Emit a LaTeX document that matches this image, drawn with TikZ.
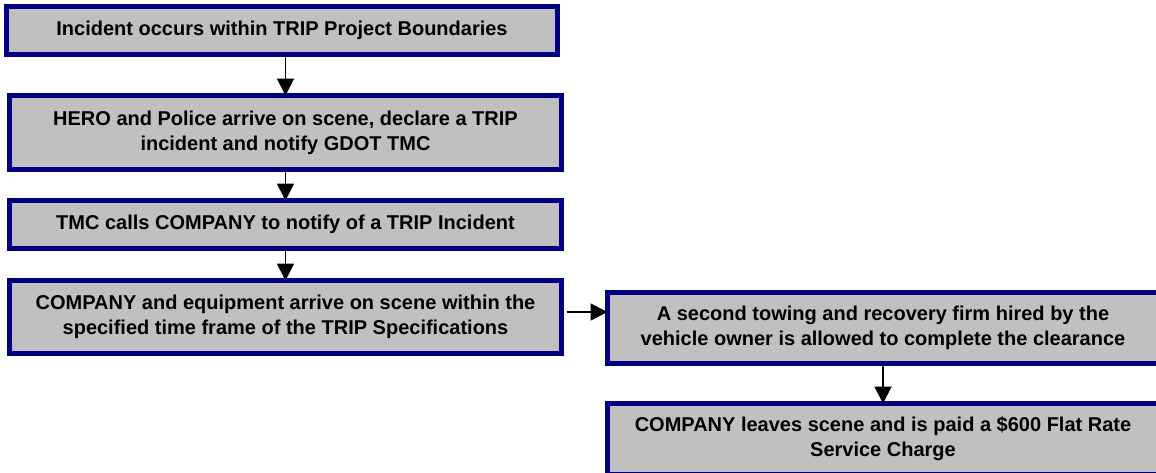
\documentclass[tikz,border=0pt]{standalone}
\usepackage{fontspec}
\setmainfont{Liberation Sans}
\usetikzlibrary{arrows.meta}
\definecolor{boxnavy}{HTML}{000080}
\definecolor{boxgray}{HTML}{C0C0C0}
\begin{document}
\begin{tikzpicture}[x=1pt,y=-1pt,
  flowbox/.style={draw=boxnavy,line width=5pt,fill=boxgray,rectangle,inner sep=0pt,
    align=center,font=\fontsize{20}{25}\selectfont\bfseries},
  arr/.style={line width=1.8pt,-{Triangle[width=17pt,length=17pt]}}]
\useasboundingbox (0,0) rectangle (1156,472);
\clip (0,0) rectangle (1156,472);
\node[flowbox,minimum width=551pt,minimum height=48pt] (b1) at (282,30.5)
  {Incident occurs within TRIP Project Boundaries};
\node[flowbox,minimum width=552pt,minimum height=74pt] (b2) at (285.5,132.5)
  {HERO and Police arrive on scene, declare a TRIP\\incident and notify GDOT TMC};
\node[flowbox,minimum width=552pt,minimum height=48pt] (b3) at (285.5,224.5)
  {TMC calls COMPANY to notify of a TRIP Incident};
\node[flowbox,minimum width=552pt,minimum height=73pt] (b4) at (285.5,317)
  {COMPANY and equipment arrive on scene within the\\specified time frame of the TRIP Specifications};
\node[flowbox,minimum width=551pt,minimum height=71pt] (b5) at (883,328)
  {A second towing and recovery firm hired by the\\vehicle owner is allowed to complete the clearance};
\node[flowbox,minimum width=551pt,minimum height=71pt] (b6) at (883,439)
  {COMPANY leaves scene and is paid a \$600 Flat Rate\\Service Charge};
\draw[arr] ([yshift=2.5pt]b1.south -| b2.north) -- ([yshift=-2.5pt]b2.north);
\draw[arr] ([yshift=2.5pt]b2.south) -- ([yshift=-2.5pt]b3.north);
\draw[arr] ([yshift=2.5pt]b3.south) -- ([yshift=-2.5pt]b4.north);
\draw[arr] ([xshift=2.5pt,yshift=5pt]b4.east) -- ([xshift=2.5pt,yshift=5pt]b4.east -| b5.west);
\draw[arr] ([yshift=2.5pt]b5.south) -- ([yshift=-2.5pt]b6.north);
\end{tikzpicture}
\end{document}
